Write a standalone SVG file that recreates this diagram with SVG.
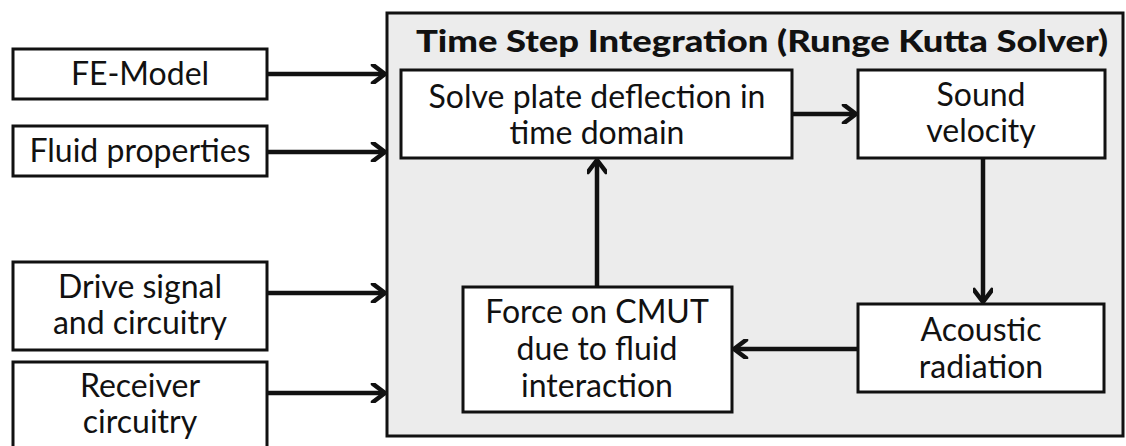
<svg xmlns="http://www.w3.org/2000/svg" width="1126" height="446" viewBox="0 0 1126 446">
  <defs>
    <marker id="arr" viewBox="0 0 20 20" refX="17" refY="10" markerWidth="20" markerHeight="20" markerUnits="userSpaceOnUse" orient="auto">
      <path d="M5,1 L17,10 L5,19" fill="none" stroke="#111" stroke-width="4.5" stroke-linecap="round" stroke-linejoin="round"/>
    </marker>
    <style>
      .box { fill: #ffffff; stroke: #111; stroke-width: 3; }
      .t { font-family: Lato, "Open Sans", "DejaVu Sans", sans-serif; font-size: 32px; fill: #111; text-anchor: middle; }
      .title { font-family: Lato, "Open Sans", "DejaVu Sans", sans-serif; font-size: 31px; font-weight: 900; fill: #111; text-anchor: middle; }
      .c { fill: none; stroke: #111; stroke-width: 4.5; marker-end: url(#arr); }
    </style>
  </defs>
  <rect width="1126" height="446" fill="#ffffff"/>

  <g id="solver">
    <rect x="387" y="13" width="736" height="423" fill="#ececec" stroke="#111" stroke-width="3"/>
    <text class="title" x="762" y="52" textLength="692" lengthAdjust="spacingAndGlyphs">Time Step Integration (Runge Kutta Solver)</text>
  </g>

  <g id="fe-model">
    <rect class="box" x="13" y="49" width="254" height="50"/>
    <text class="t" x="140" y="85">FE-Model</text>
  </g>
  <g id="fluid-properties">
    <rect class="box" x="13" y="126" width="254" height="50"/>
    <text class="t" x="140" y="162">Fluid properties</text>
  </g>
  <g id="drive-signal">
    <rect class="box" x="13" y="262" width="254" height="88"/>
    <text class="t" x="140" y="298">Drive signal</text>
    <text class="t" x="140" y="334">and circuitry</text>
  </g>
  <g id="receiver">
    <rect class="box" x="13" y="362" width="254" height="90"/>
    <text class="t" x="140" y="397">Receiver</text>
    <text class="t" x="140" y="433">circuitry</text>
  </g>

  <g id="solve-plate">
    <rect class="box" x="401" y="70" width="391" height="88"/>
    <text class="t" x="597" y="108">Solve plate deflection in</text>
    <text class="t" x="597" y="144">time domain</text>
  </g>
  <g id="sound-velocity">
    <rect class="box" x="858" y="70" width="247" height="88"/>
    <text class="t" x="981" y="106">Sound</text>
    <text class="t" x="981" y="142">velocity</text>
  </g>
  <g id="acoustic-radiation">
    <rect class="box" x="858" y="304" width="246" height="88"/>
    <text class="t" x="981" y="341">Acoustic</text>
    <text class="t" x="981" y="378">radiation</text>
  </g>
  <g id="force-cmut">
    <rect class="box" x="463" y="287" width="269" height="125"/>
    <text class="t" x="597" y="323">Force on CMUT</text>
    <text class="t" x="597" y="360">due to fluid</text>
    <text class="t" x="597" y="397">interaction</text>
  </g>

  <g id="connectors">
    <line class="c" x1="267" y1="74" x2="385" y2="74"/>
    <line class="c" x1="267" y1="152" x2="385" y2="152"/>
    <line class="c" x1="267" y1="293" x2="385" y2="293"/>
    <line class="c" x1="267" y1="393" x2="385" y2="393"/>
    <line class="c" x1="792" y1="114" x2="856" y2="114"/>
    <line class="c" x1="983" y1="158" x2="983" y2="302"/>
    <line class="c" x1="858" y1="349" x2="734" y2="349"/>
    <line class="c" x1="597" y1="287" x2="597" y2="160"/>
  </g>
</svg>
